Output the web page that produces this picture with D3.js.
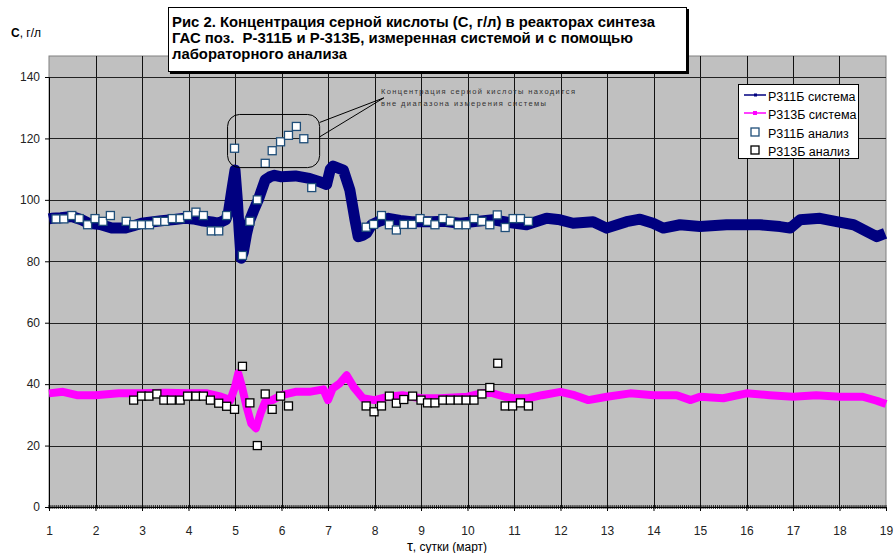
<!DOCTYPE html>
<html><head><meta charset="utf-8">
<script src="https://cdn.jsdelivr.net/npm/d3@7"></script>
<style>
body{margin:0;background:#fff;}
text{font-family:"Liberation Sans",Arial,sans-serif;}
</style></head>
<body><svg id="c" width="894" height="553"></svg>
<script>
// ---- data ----
const xTicks = d3.range(1, 20);
const yTicks = [0, 20, 40, 60, 80, 100, 120, 140];

const sys311 = [[1,93.8],[1.06,94],[1.25,94.2],[1.49,94.6],[1.7,93.5],[1.85,92.4],[2.1,92],[2.35,90.8],[2.63,90.8],[2.8,91.5],[2.99,92.4],[3.2,92.8],[3.42,93.2],[3.7,93.6],[3.92,94],[4.1,93.8],[4.28,93.2],[4.5,92.8],[4.64,92.4],[4.8,93.5],[4.86,96],[4.93,103],[5.0,109.7],[5.05,100],[5.09,90],[5.13,81],[5.18,83],[5.25,89],[5.32,93.5],[5.4,96.5],[5.5,100],[5.58,103.5],[5.65,106.5],[5.75,107.5],[5.85,108],[6.0,107.5],[6.3,107.8],[6.6,107],[6.8,106],[6.97,105],[7.05,110],[7.11,111],[7.33,109.7],[7.47,103.2],[7.58,93.5],[7.65,88],[7.75,88.5],[7.83,89.2],[7.94,91.9],[8.1,93],[8.3,94],[8.55,93.3],[8.8,92.9],[9.23,92.9],[9.5,93],[9.84,92.4],[10.2,93],[10.55,93.5],[10.9,92.6],[11.27,91.9],[11.7,94],[11.99,93.5],[12.27,92.4],[12.7,92.9],[12.99,90.8],[13.42,92.9],[13.71,93.7],[13.99,92.4],[14.21,90.8],[14.57,91.9],[15.0,91.3],[15.57,91.9],[16.29,91.9],[16.72,91.3],[16.94,90.8],[17.15,93.5],[17.58,94],[17.94,92.9],[18.3,91.9],[18.58,89.7],[18.8,88],[18.98,89.1]];

const sys313 = [[1,37],[1.3,37.5],[1.6,36.4],[2,36.4],[2.5,37],[3,37],[3.5,37.2],[4,37],[4.4,37],[4.7,35.9],[4.9,34.8],[5.0,39.1],[5.07,43.5],[5.15,39.1],[5.25,32.6],[5.35,27.2],[5.45,25.6],[5.55,30.5],[5.65,34.3],[5.8,34.8],[6.0,36.4],[6.3,37.5],[6.6,37.5],[6.9,38.3],[7.0,34.8],[7.1,38.6],[7.25,40.2],[7.4,42.9],[7.55,39.1],[7.75,35.4],[8,34.8],[8.3,35.9],[8.6,36.4],[9,35.4],[9.4,35.4],[10,35.9],[10.3,37],[10.5,37.2],[10.8,35.9],[11,35.4],[11.3,35.4],[11.6,36.4],[12,37.5],[12.3,36.4],[12.6,34.8],[13,35.9],[13.5,37],[14,36.4],[14.5,36.4],[14.8,34.8],[15,35.9],[15.5,35.4],[16,37],[16.5,36.4],[17,35.9],[17.5,36.4],[18,35.9],[18.5,35.9],[18.8,34.6],[19,33.5]];

const an311 = [[1.15,93.8],[1.32,93.8],[1.49,94.9],[1.65,93.9],[1.83,91.9],[1.99,93.9],[2.16,93.0],[2.32,94.9],[2.66,93.0],[2.82,91.9],[2.99,91.9],[3.16,91.9],[3.32,93.0],[3.49,93.0],[3.65,93.9],[3.82,93.9],[3.98,94.9],[4.16,96.0],[4.32,94.9],[4.49,89.9],[4.65,89.9],[4.82,94.9],[4.99,116.8],[5.16,81.9],[5.32,93.0],[5.48,100],[5.65,111.9],[5.80,116.0],[5.98,118.9],[6.15,121.0],[6.32,123.9],[6.48,119.9],[6.65,104.0],[7.82,91.1],[7.98,92],[8.15,94.9],[8.32,91.9],[8.47,90.2],[8.63,92],[8.81,92],[8.98,93.9],[9.14,93.0],[9.30,91.9],[9.47,93.9],[9.63,93.0],[9.80,91.9],[9.97,91.9],[10.14,93.9],[10.31,93.0],[10.48,91.9],[10.64,95.1],[10.81,91.0],[10.98,93.9],[11.14,93.9],[11.31,93.0]];

const an313 = [[2.82,34.8],[2.99,36.1],[3.15,36.1],[3.32,36.8],[3.47,34.8],[3.63,34.8],[3.82,34.8],[3.98,36.1],[4.16,36.1],[4.32,36.1],[4.47,34.8],[4.65,33.8],[4.82,32.8],[4.99,31.8],[5.16,45.8],[5.32,33.9],[5.48,20.0],[5.65,36.8],[5.80,31.8],[5.98,36.1],[6.15,32.9],[7.82,32.9],[7.99,31.0],[8.15,32.9],[8.32,36.1],[8.47,33.8],[8.63,35.0],[8.82,36.1],[9.0,34.8],[9.14,33.9],[9.30,33.9],[9.47,34.8],[9.63,34.8],[9.80,34.8],[9.97,34.8],[10.14,34.8],[10.31,36.8],[10.48,38.9],[10.65,46.8],[10.81,32.9],[10.97,32.9],[11.14,33.9],[11.31,32.9]];

const legendLabels = ["Р311Б система", "Р313Б система", "Р311Б анализ", "Р313Б анализ"];
const titleLines = ["Рис 2. Концентрация серной кислоты (С, г/л) в реакторах синтеза",
                    "ГАС поз.  Р-311Б и Р-313Б, измеренная системой и с помощью",
                    "лабораторного анализа"];
const noteLines = ["Концентрация серной кислоты находится", "вне диапазона измерения системы"];

// ---- drawing ----
const svg = d3.select("#c");
const x = d3.scaleLinear().domain([1, 19]).range([49, 886]);
const y = d3.scaleLinear().domain([0, 140]).range([507, 77]);
const plotTop = 56;

// plot area
svg.append("rect").attr("x", x(1)).attr("y", plotTop).attr("width", x(19) - x(1)).attr("height", y(0) - plotTop)
  .attr("fill", "#c0c0c0").attr("stroke", "#808080").attr("stroke-width", 1);

// grid
svg.append("g").selectAll("line").data(xTicks.slice(1, -1)).join("line")
  .attr("x1", d => Math.round(x(d)) + 0.5).attr("x2", d => Math.round(x(d)) + 0.5)
  .attr("y1", plotTop).attr("y2", y(0)).attr("stroke", "#111").attr("stroke-width", 1);
svg.append("g").selectAll("line").data(yTicks.slice(1)).join("line")
  .attr("x1", x(1)).attr("x2", x(19))
  .attr("y1", d => Math.round(y(d)) + 0.5).attr("y2", d => Math.round(y(d)) + 0.5)
  .attr("stroke", "#222").attr("stroke-width", 1);

// y axis
const yAxis = svg.append("g").attr("transform", `translate(${x(1)},0)`)
  .call(d3.axisLeft(y).tickValues(yTicks).tickSize(4).tickPadding(5));
yAxis.select(".domain").attr("stroke", "#000");
yAxis.selectAll("text").attr("font-size", 12).attr("fill", "#222").style("font-family", "'Liberation Sans',Arial,sans-serif");

// x axis with dense minor ticks
const minor = d3.range(1, 19.0001, 1 / 24);
svg.append("g").selectAll("line").data(minor).join("line")
  .attr("x1", d => x(d)).attr("x2", d => x(d)).attr("y1", y(0) - 2).attr("y2", y(0) + 2)
  .attr("stroke", "#000").attr("stroke-width", 0.8);
const xAxis = svg.append("g").attr("transform", `translate(0,${y(0)})`)
  .call(d3.axisBottom(x).tickValues(xTicks).tickFormat(d3.format("d")).tickSize(4).tickPadding(15));
xAxis.select(".domain").attr("stroke", "#000");
xAxis.selectAll("text").attr("font-size", 12).attr("fill", "#222").style("font-family", "'Liberation Sans',Arial,sans-serif");

// lines
const line = d3.line().x(d => x(d[0])).y(d => y(d[1]));
svg.append("path").datum(sys311).attr("d", line).attr("fill", "none")
  .attr("stroke", "#000080").attr("stroke-width", 11).attr("stroke-linejoin", "round");
svg.append("path").datum(sys313).attr("d", line).attr("fill", "none")
  .attr("stroke", "#ff00ff").attr("stroke-width", 8).attr("stroke-linejoin", "round");

// analysis squares
const sq = 8;
svg.append("g").selectAll("rect").data(an311).join("rect")
  .attr("x", d => x(d[0]) - sq / 2).attr("y", d => y(d[1]) - sq / 2).attr("width", sq).attr("height", sq)
  .attr("fill", "#fff").attr("stroke", "#1f4e79").attr("stroke-width", 1.3);
svg.append("g").selectAll("rect").data(an313).join("rect")
  .attr("x", d => x(d[0]) - sq / 2).attr("y", d => y(d[1]) - sq / 2).attr("width", sq).attr("height", sq)
  .attr("fill", "#fff").attr("stroke", "#000").attr("stroke-width", 1.3);

// callout
const cx0 = x(4.84), cx1 = x(6.82), cy0 = y(127.8), cy1 = y(110.5);
svg.append("rect").attr("x", cx0).attr("y", cy0).attr("width", cx1 - cx0).attr("height", cy1 - cy0)
  .attr("rx", 12).attr("fill", "none").attr("stroke", "#000").attr("stroke-width", 1);
const tip = [x(8.2), y(133.2)];
svg.append("path").attr("d", `M${cx1},${y(125.2)} L${tip[0]},${tip[1]} L${cx1},${y(120.5)}`)
  .attr("fill", "none").attr("stroke", "#000").attr("stroke-width", 1);
svg.append("g").selectAll("text").data(noteLines).join("text")
  .attr("x", 381).attr("y", (d, i) => 94 + i * 12).attr("font-size", 7.5).attr("fill", "#333")
  .attr("textLength", (d, i) => i === 0 ? 194 : 165).attr("lengthAdjust", "spacing").text(d => d);

// legend
const lg = svg.append("g");
lg.append("clipPath").attr("id", "lgclip").append("rect").attr("x", 738).attr("y", 84).attr("width", 120).attr("height", 74);
lg.append("rect").attr("x", 738.5).attr("y", 84.5).attr("width", 120).attr("height", 74)
  .attr("fill", "#fff").attr("stroke", "#000");
const lgi = lg.append("g").attr("clip-path", "url(#lgclip)");
const rowsY = [95, 113, 132, 150];
lgi.append("line").attr("x1", 744).attr("x2", 766).attr("y1", rowsY[0]).attr("y2", rowsY[0]).attr("stroke", "#000080").attr("stroke-width", 1.5);
lgi.append("rect").attr("x", 754).attr("y", rowsY[0] - 1.5).attr("width", 3).attr("height", 3).attr("fill", "#000080");
lgi.append("line").attr("x1", 744).attr("x2", 766).attr("y1", rowsY[1]).attr("y2", rowsY[1]).attr("stroke", "#ff00ff").attr("stroke-width", 1.5);
lgi.append("rect").attr("x", 753).attr("y", rowsY[1] - 2).attr("width", 4).attr("height", 4).attr("fill", "#ff00ff");
lgi.append("rect").attr("x", 751).attr("y", rowsY[2] - 4).attr("width", 8).attr("height", 8).attr("fill", "#fff").attr("stroke", "#1f4e79").attr("stroke-width", 1.3);
lgi.append("rect").attr("x", 751).attr("y", rowsY[3] - 4).attr("width", 8).attr("height", 8).attr("fill", "#fff").attr("stroke", "#000").attr("stroke-width", 1.3);
lgi.selectAll("text").data(legendLabels).join("text")
  .attr("x", 768).attr("y", (d, i) => rowsY[i] + 6).attr("font-size", 12.5).attr("fill", "#000").text(d => d);

// title box
svg.append("rect").attr("x", 170).attr("y", 9).attr("width", 519).attr("height", 65).attr("fill", "#000");
svg.append("rect").attr("x", 168.5).attr("y", 7.5).attr("width", 518).attr("height", 64)
  .attr("fill", "#fff").attr("stroke", "#000");
const titleW = [483, 461, 175];
svg.append("g").selectAll("text").data(titleLines).join("text")
  .attr("x", 172).attr("y", (d, i) => 27 + i * 16).attr("font-size", 14.5).attr("font-weight", "bold")
  .attr("fill", "#000").style("white-space", "pre")
  .attr("textLength", (d, i) => titleW[i]).attr("lengthAdjust", "spacingAndGlyphs").text(d => d);

// axis titles
const yl = svg.append("text").attr("x", 11).attr("y", 37).attr("font-size", 12).attr("fill", "#000");
yl.append("tspan").attr("font-weight", "bold").text("C");
yl.append("tspan").text(", г/л");
const xl = svg.append("text").attr("x", 447).attr("y", 551).attr("text-anchor", "middle").attr("font-size", 12).attr("fill", "#000");
xl.append("tspan").attr("font-size", 15).text("τ");
xl.append("tspan").text(", сутки (март)");
</script></body></html>
